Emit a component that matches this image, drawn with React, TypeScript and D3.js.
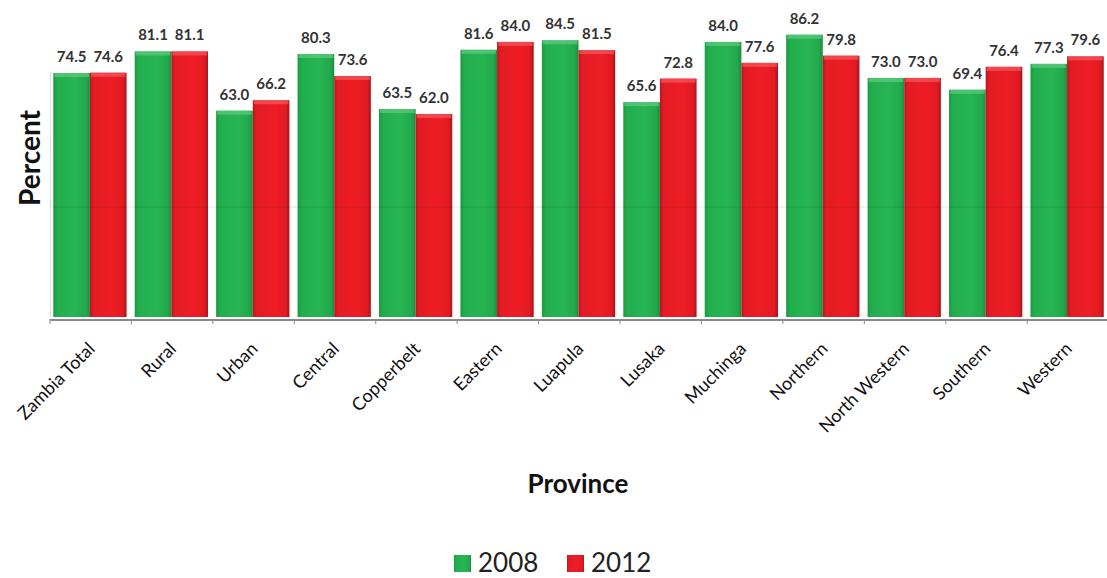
import React from "react";
import * as d3 from "d3";

const categories = ["Zambia Total", "Rural", "Urban", "Central", "Copperbelt", "Eastern", "Luapula", "Lusaka", "Muchinga", "Northern", "North Western", "Southern", "Western"];
const series2008 = [74.5, 81.1, 63.0, 80.3, 63.5, 81.6, 84.5, 65.6, 84.0, 86.2, 73.0, 69.4, 77.3];
const series2012 = [74.6, 81.1, 66.2, 73.6, 62.0, 84.0, 81.5, 72.8, 77.6, 79.8, 73.0, 76.4, 79.6];
const seriesNames = ["2008", "2012"];

const W = 1107, H = 578;
const FONT = "Lato, 'Open Sans', sans-serif";

export default function App() {
  const x = d3.scaleBand<string>().domain(categories).range([50, 1107]).paddingInner(0.1).paddingOuter(0.04);
  const xs = d3.scaleBand<string>().domain(seriesNames).range([0, x.bandwidth()]);
  const y = d3.scaleLinear().domain([0, 96.8]).range([317, 0]);
  const baseY = y(0);
  const step = x.step();
  const ticks = d3.range(categories.length + 1).map(i => 50 + i * step);
  const data = [series2008, series2012];
  const grads = ["gGreen", "gRed"];

  return (
    <svg width={W} height={H} style={{ position: "absolute", left: 0, top: 0, background: "#fff" }}>
      <defs>
        <linearGradient id="gGreen" x1="0" x2="1" y1="0" y2="0">
          <stop offset="0" stopColor="#1c9a43" />
          <stop offset="0.12" stopColor="#23ae4e" />
          <stop offset="0.6" stopColor="#27b553" />
          <stop offset="0.9" stopColor="#22a84b" />
          <stop offset="1" stopColor="#1b8c3d" />
        </linearGradient>
        <linearGradient id="gRed" x1="0" x2="1" y1="0" y2="0">
          <stop offset="0" stopColor="#b8161c" />
          <stop offset="0.1" stopColor="#e31b23" />
          <stop offset="0.6" stopColor="#ee1d25" />
          <stop offset="0.9" stopColor="#e21a22" />
          <stop offset="1" stopColor="#a91319" />
        </linearGradient>
      </defs>
      <line x1={50.5} x2={50.5} y1={y(75)} y2={baseY} stroke="#ddd" strokeWidth={1} />
      {categories.map((c, i) =>
        data.map((s, k) => {
          const bx = (x(c) as number) + (xs(seriesNames[k]) as number);
          const bw = xs.bandwidth();
          const by = y(s[i]);
          return (
            <g key={c + k}>
              <rect x={bx} y={by} width={bw} height={baseY - by} fill={`url(#${grads[k]})`} />
              <rect x={bx + 1} y={by} width={bw - 2} height={4} fill={k === 0 ? "#5fcc82" : "#f45a5f"} opacity={0.7} />
              <text x={bx + bw / 2} y={by - 11} textAnchor="middle" fontFamily={FONT} fontWeight="bold" fontSize={15} fill="#333">
                {s[i].toFixed(1)}
              </text>
            </g>
          );
        })
      )}
      <line x1={50} x2={1107} y1={207} y2={207} stroke="#000" strokeOpacity={0.07} strokeWidth={1.5} />
      <line x1={50} x2={1107} y1={baseY + 3} y2={baseY + 3} stroke="#8a8a8a" strokeWidth={2} />
      {ticks.map((t, i) => (
        <line key={i} x1={t} x2={t} y1={baseY + 2} y2={baseY + 7} stroke="#8a8a8a" strokeWidth={1} />
      ))}
      {categories.map(c => {
        const cx = (x(c) as number) + x.bandwidth() / 2 + 6;
        const cy = 350;
        return (
          <text key={c} transform={`translate(${cx},${cy}) rotate(-45)`} textAnchor="end" fontFamily={FONT} fontSize={18} fill="#111">
            {c}
          </text>
        );
      })}
      <text transform={`translate(40,158) rotate(-90)`} textAnchor="middle" fontFamily={FONT} fontWeight="bold" fontSize={28} fill="#111">
        Percent
      </text>
      <text x={578} y={493} textAnchor="middle" fontFamily={FONT} fontWeight="bold" fontSize={26} fill="#111">
        Province
      </text>
      <g>
        <rect x={454} y={555} width={17} height={17} fill="url(#gGreen)" />
        <text x={478} y={572} fontFamily={FONT} fontSize={26} fill="#222">2008</text>
        <rect x={567} y={555} width={17} height={17} fill="url(#gRed)" />
        <text x={591} y={572} fontFamily={FONT} fontSize={26} fill="#222">2012</text>
      </g>
    </svg>
  );
}
